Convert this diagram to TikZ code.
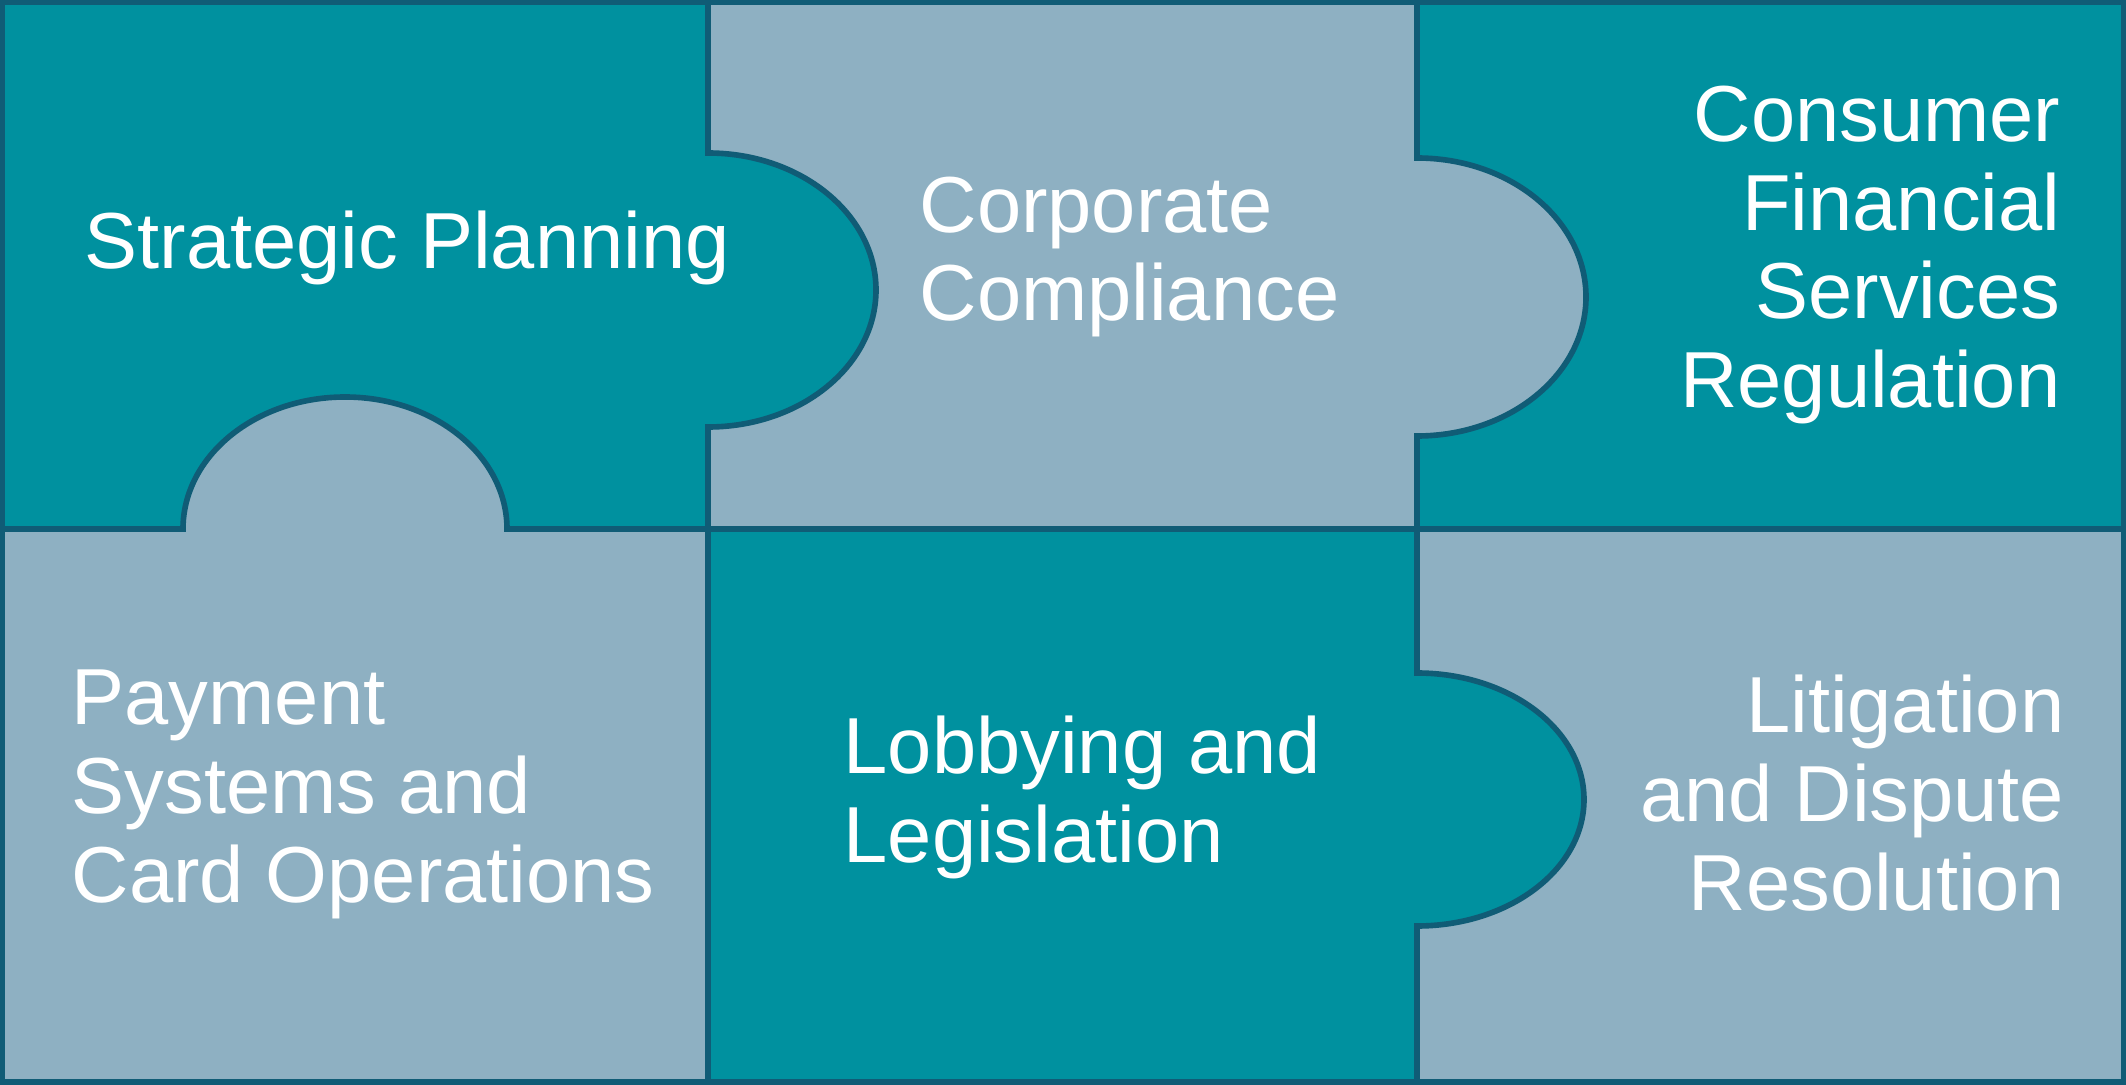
\documentclass[tikz,border=0pt]{standalone}
\usepackage{fontspec}
\setmainfont{Liberation Sans}
\usepackage{xcolor}
\usepackage{tikz}
\usetikzlibrary{positioning}

\definecolor{tealtile}{RGB}{0,145,159}
\definecolor{greytile}{RGB}{142,176,194}
\definecolor{edgeblue}{RGB}{16,92,118}

\begin{document}
\begin{tikzpicture}[x=0.01cm, y=0.01cm,
  edge/.style={draw=edgeblue, line width=1.6pt},
  lbl/.style={text=white, inner sep=0pt, font=\fontsize{22.6}{25.3}\selectfont}]
  \useasboundingbox (0,0) rectangle (2126,1084);
  % tiles
  \fill[tealtile] (0,555)    rectangle (708,1084);
  \fill[greytile] (708,555)  rectangle (1417,1084);
  \fill[tealtile] (1417,555) rectangle (2126,1084);
  \fill[greytile] (0,0)      rectangle (708,555);
  \fill[tealtile] (708,0)    rectangle (1417,555);
  \fill[greytile] (1417,0)   rectangle (2126,555);
  % knobs
  \fill[tealtile] (708,931)  arc[start angle=90, end angle=-90, x radius=168, y radius=137];
  \fill[greytile] (183,555)  arc[start angle=180, end angle=0, x radius=162, y radius=132];
  \fill[greytile] (1417,926) arc[start angle=90, end angle=-90, x radius=169, y radius=139];
  \fill[tealtile] (1417,411) arc[start angle=90, end angle=-90, x radius=167, y radius=126.5];
  % cuts
  \draw[edge] (0,555) -- (183,555)
    arc[start angle=180, end angle=0, x radius=162, y radius=132] -- (2126,555);
  \draw[edge] (708,1084) -- (708,931)
    arc[start angle=90, end angle=-90, x radius=168, y radius=137] -- (708,0);
  \draw[edge] (1417,1084) -- (1417,926)
    arc[start angle=90, end angle=-90, x radius=169, y radius=139] -- (1417,411)
    arc[start angle=90, end angle=-90, x radius=167, y radius=126.5] -- (1417,0);
  \draw[edge] (2,2) rectangle (2124,1082);
  % labels
  \node[lbl, anchor=west, align=left]  (plan)  at (84,836)   {Strategic Planning};
  \node[lbl, anchor=west, align=left]  (comp)  at (919,827)  {Corporate\\Compliance};
  \node[lbl, anchor=east, align=right] (cfsr)  at (2061,829) {Consumer\\Financial\\Services\\Regulation};
  \node[lbl, anchor=west, align=left]  (pay)   at (71,290)   {Payment\\Systems and\\Card Operations};
  \node[lbl, anchor=west, align=left]  (lobby) at (843,287)  {Lobbying and\\Legislation};
  \node[lbl, anchor=east, align=right] (lit)   at (2065,291) {Litigation\\and Dispute\\Resolution};
\end{tikzpicture}
\end{document}
